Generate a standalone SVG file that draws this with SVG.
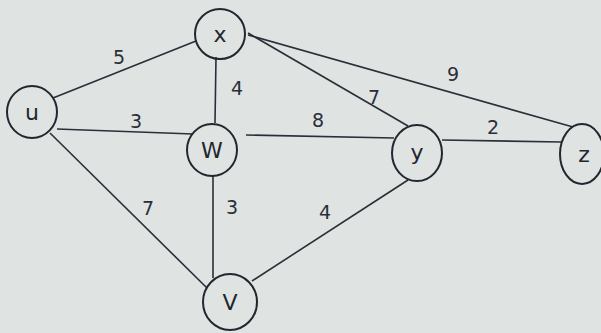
<svg xmlns="http://www.w3.org/2000/svg" width="601" height="333" viewBox="0 0 601 333">
<style>
.n{fill:none;stroke:#23262e;stroke-width:2}
.e{stroke:#2a2e38;stroke-width:1.6;fill:none}
.t{font-family:"DejaVu Sans","Liberation Sans",sans-serif;font-size:22px;fill:#23262e;text-anchor:middle}
.l{font-family:"DejaVu Sans","Liberation Sans",sans-serif;font-size:19px;fill:#2a2e38;text-anchor:middle}
</style>
<rect width="601" height="333" fill="#dfe4e2"/>
<g id="edges">
<line class="e" x1="53" y1="98" x2="196" y2="41"/>
<line class="e" x1="57" y1="129" x2="193" y2="134"/>
<line class="e" x1="50" y1="133" x2="207" y2="288"/>
<line class="e" x1="216" y1="57" x2="215" y2="123"/>
<line class="e" x1="248" y1="33" x2="408" y2="126"/>
<line class="e" x1="248" y1="35" x2="573" y2="127"/>
<line class="e" x1="246" y1="135" x2="394" y2="138"/>
<line class="e" x1="442" y1="140" x2="561" y2="142"/>
<line class="e" x1="213" y1="175" x2="213" y2="278"/>
<line class="e" x1="252" y1="281" x2="408" y2="180"/>
<text class="l" x="119" y="64">5</text>
<text class="l" x="136" y="128">3</text>
<text class="l" x="148" y="215">7</text>
<text class="l" x="237" y="95">4</text>
<text class="l" x="374" y="104">7</text>
<text class="l" x="453" y="81">9</text>
<text class="l" x="318" y="127">8</text>
<text class="l" x="493" y="134">2</text>
<text class="l" x="232" y="214">3</text>
<text class="l" x="325" y="219">4</text>
</g>
<g id="node-x"><ellipse class="n" cx="220" cy="34" rx="25" ry="25"/><text class="t" x="220" y="42">x</text></g>
<g id="node-u"><ellipse class="n" cx="32" cy="112" rx="25" ry="26"/><text class="t" x="32" y="120">u</text></g>
<g id="node-w"><ellipse class="n" cx="212" cy="150" rx="25" ry="26"/><text class="t" x="212" y="158">W</text></g>
<g id="node-y"><ellipse class="n" cx="417" cy="153" rx="25" ry="28"/><text class="t" x="417" y="160">y</text></g>
<g id="node-z"><ellipse class="n" cx="582" cy="154" rx="22" ry="30"/><text class="t" x="584" y="162">z</text></g>
<g id="node-v"><ellipse class="n" cx="230" cy="302" rx="27" ry="28"/><text class="t" x="230" y="310">V</text></g>
</svg>
